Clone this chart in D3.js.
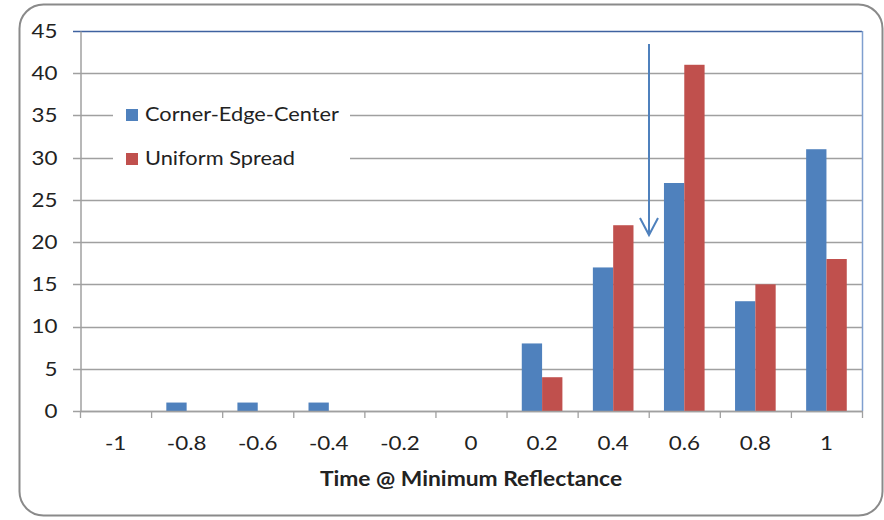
<!DOCTYPE html>
<html>
<head>
<meta charset="utf-8">
<script src="https://cdn.jsdelivr.net/npm/d3@7"></script>
<style>
  body { margin: 0; background: #fff; }
  text { font-family: Lato, sans-serif; fill: #222; }
</style>
</head>
<body>
<div id="chart"></div>
<script>
// Time @ Minimum Reflectance histogram

var categories = ["-1", "-0.8", "-0.6", "-0.4", "-0.2", "0", "0.2", "0.4", "0.6", "0.8", "1"];
var cornerEdgeCenter = [0, 1, 1, 1, 0, 0, 8, 17, 27, 13, 31];
var uniformSpread = [0, 0, 0, 0, 0, 0, 4, 22, 41, 15, 18];
var seriesNames = ["Corner-Edge-Center", "Uniform Spread"];
var yTicks = [0, 5, 10, 15, 20, 25, 30, 35, 40, 45];

var WIDTH = 884;
var HEIGHT = 520;
var LEFT = 80, RIGHT = 862, TOP = 31, BOTTOM = 411;
var BLUE = "#4F81BD", RED = "#C0504D";
var FONT = 20;
// text looks stretched sideways in the original
var SX_TICK = 1.12, SX_LEG = 1.09, SX_TITLE = 1.14;

var svg = d3.select("#chart").append("svg")
    .attr("width", WIDTH)
    .attr("height", HEIGHT);

// outer frame
svg.append("rect")
    .attr("x", 19.5).attr("y", 4.5)
    .attr("width", 863).attr("height", 511)
    .attr("rx", 24)
    .attr("fill", "#fff")
    .attr("stroke", "#8a8a8a")
    .attr("stroke-width", 2);

var x = d3.scaleBand()
    .domain(categories)
    .range([LEFT, RIGHT]);

var y = d3.scaleLinear()
    .domain([0, 45])
    .range([BOTTOM, TOP]);

// bar width as excel does with gap width 150%
var bw = x.bandwidth() / 3.5;

// gridlines
svg.append("g")
    .selectAll("line")
    .data(yTicks)
    .enter()
    .append("line")
    .attr("x1", LEFT - 7)
    .attr("x2", RIGHT)
    .attr("y1", function(d) { return Math.round(y(d)) + 0.5; })
    .attr("y2", function(d) { return Math.round(y(d)) + 0.5; })
    .attr("stroke", function(d) { return d == 45 ? "#3f62a0" : "#a0a0a0"; })
    .attr("stroke-width", function(d) { return d == 45 ? 1.5 : 1.3; });

// right plot border
svg.append("line")
    .attr("x1", RIGHT + 0.5).attr("x2", RIGHT + 0.5)
    .attr("y1", TOP).attr("y2", BOTTOM)
    .attr("stroke", "#7f9fcf")
    .attr("stroke-width", 1.5);

// y axis
var yAxis = d3.axisLeft(y)
    .tickValues(yTicks)
    .tickSize(0)
    .tickPadding(23);

var yg = svg.append("g")
    .attr("transform", "translate(" + (LEFT + 0.5) + ",0)")
    .call(yAxis);
yg.select(".domain").attr("stroke", "#a0a0a0").attr("stroke-width", 1.5);
yg.selectAll("text")
    .style("font-size", FONT + "px")
    .attr("fill", "#222")
    .attr("x", -23 / SX_TICK)
    .attr("transform", "scale(" + SX_TICK + ",1)");

// bars
var groups = [cornerEdgeCenter, uniformSpread];
var colors = [BLUE, RED];

groups.forEach(function(vals, s) {
    svg.append("g")
        .selectAll("rect")
        .data(vals)
        .enter()
        .append("rect")
        .attr("x", function(d, i) { return x(categories[i]) + bw * 0.75 + s * bw; })
        .attr("y", function(d) { return y(d); })
        .attr("width", bw)
        .attr("height", function(d) { return BOTTOM - y(d); })
        .attr("fill", colors[s]);
});

// x axis
var xAxis = d3.axisBottom(x)
    .tickSize(0)
    .tickPadding(24);

var xg = svg.append("g")
    .attr("transform", "translate(0," + (BOTTOM + 0.5) + ")")
    .call(xAxis);
xg.select(".domain").remove();
xg.selectAll("text")
    .style("font-size", FONT + "px")
    .attr("fill", "#222")
    .attr("transform", "scale(" + SX_TICK + ",1)");

svg.append("line")
    .attr("x1", LEFT).attr("x2", RIGHT + 1)
    .attr("y1", BOTTOM + 0.5).attr("y2", BOTTOM + 0.5)
    .attr("stroke", "#a0a0a0")
    .attr("stroke-width", 1.5);

// tick marks between categories
svg.append("g")
    .selectAll("line")
    .data(categories.concat([null]))
    .enter()
    .append("line")
    .attr("x1", function(d, i) { return LEFT + i * x.step() + 0.5; })
    .attr("x2", function(d, i) { return LEFT + i * x.step() + 0.5; })
    .attr("y1", BOTTOM)
    .attr("y2", BOTTOM + 7)
    .attr("stroke", "#a0a0a0")
    .attr("stroke-width", 1.3);

// axis title
var cx = (LEFT + RIGHT) / 2;
svg.append("text")
    .attr("x", cx / SX_TITLE)
    .attr("y", 486)
    .attr("transform", "scale(" + SX_TITLE + ",1)")
    .attr("text-anchor", "middle")
    .style("font-size", FONT + "px")
    .style("font-weight", "bold")
    .attr("fill", "#111")
    .text("Time @ Minimum Reflectance");

// legend
var legend = svg.append("g");
legend.append("rect")
    .attr("x", 113).attr("y", 92)
    .attr("width", 237).attr("height", 88)
    .attr("fill", "#fff");

seriesNames.forEach(function(name, i) {
    var ly = 115 + i * 44;
    legend.append("rect")
        .attr("x", 126).attr("y", ly - 6)
        .attr("width", 12).attr("height", 12)
        .attr("fill", colors[i]);
    legend.append("text")
        .attr("x", 145 / SX_LEG).attr("y", ly + 6)
        .attr("transform", "scale(" + SX_LEG + ",1)")
        .style("font-size", FONT + "px")
        .text(name);
});

// arrow marking the peak
var arrowX = 649;
svg.append("line")
    .attr("x1", arrowX).attr("x2", arrowX)
    .attr("y1", 44).attr("y2", 234)
    .attr("stroke", BLUE)
    .attr("stroke-width", 2);
svg.append("path")
    .attr("d", "M" + (arrowX - 9) + ",218 L" + arrowX + ",235 L" + (arrowX + 9) + ",218")
    .attr("fill", "none")
    .attr("stroke", BLUE)
    .attr("stroke-width", 2);
</script>
</body>
</html>
